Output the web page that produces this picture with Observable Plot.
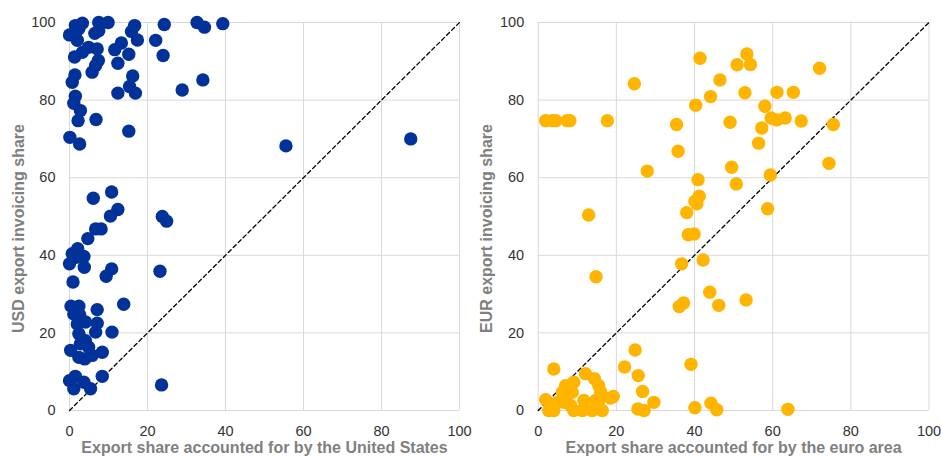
<!DOCTYPE html>
<html>
<head>
<meta charset="utf-8">
<script src="https://cdn.jsdelivr.net/npm/d3@7"></script>
<script src="https://cdn.jsdelivr.net/npm/@observablehq/plot@0.6"></script>
<style>
  html, body { margin: 0; padding: 0; background: #fff; }
  #wrap { display: flex; width: 941px; height: 459px; }
  svg { display: block; overflow: visible; }
</style>
</head>
<body>
<div id="wrap"></div>
<script>
// ---- Data ----
const ticks = [0, 20, 40, 60, 80, 100];
const diag = [0, 100];

const usdX = [1.5,3.3,2.4,7.5,9.9,0,1.5,2.0,6.5,7.5,16.7,15.9,17.4,24.3,32.7,34.6,39.3,22.1,24.0,13.3,11.6,15.2,12.4,4.9,7.1,3.3,1.3,7.4,6.7,5.8,1.4,0.7,16.2,15.4,16.9,12.4,34.2,28.9,1.5,1.1,2.8,2.2,6.8,15.2,0.1,2.6,55.5,87.5,6.1,10.8,12.4,10.5,6.7,8.1,4.7,2.1,0.7,3.7,1.7,0,3.8,0.9,10.8,9.4,23.8,24.9,23.2,13.9,0.4,2.4,1.1,2.6,7.1,2.0,4.1,7.1,6.7,2.4,10.9,0.3,2.4,3.9,4.9,8.4,5.8,4.1,2.8,0,1.5,1.1,3.7,5.4,8.4,23.6];
const usdY = [99.2,99.8,98.4,100,100,96.8,97.1,95.4,97.2,97.9,99.2,97.7,95.5,99.5,100,98.8,99.7,95.4,91.5,94.7,93.0,91.8,89.5,93.6,93.2,92.3,91.1,90.2,88.9,87.2,86.5,84.6,86.2,83.5,81.8,81.8,85.2,82.6,81.0,79.2,77.3,74.7,75.0,72.0,70.4,68.7,68.2,70.0,54.7,56.3,51.8,50.1,46.8,46.8,44.3,41.7,40.4,39.7,39.5,37.8,36.9,33.1,36.5,34.6,50.0,48.8,35.9,27.4,26.9,26.9,24.9,24.7,26.0,22.3,22.8,22.5,20.2,19.8,20.2,15.5,13.7,13.3,16.3,15.0,14.2,18.0,17.2,7.7,8.8,5.6,7.3,5.6,8.8,6.6];

const eurX = [1.9,3.6,4.5,7.4,8.1,17.7,24.6,35.4,35.8,41.4,40.3,44.1,46.5,53.4,50.9,54.3,72.0,52.9,61.1,65.3,58.0,59.6,61.0,63.2,67.3,75.5,49.1,57.2,56.4,74.4,27.9,49.5,50.7,59.4,40.9,41.2,40.1,40.6,38.0,58.7,38.4,39.9,36.7,42.2,43.9,36.1,37.2,46.2,53.2,39.1,40.1,44.2,45.7,63.9,12.9,14.8,24.8,22.1,25.6,26.7,29.6,25.5,27.1,19.2,18.5,4.0,12.1,14.4,15.5,16.0,15.8,9.1,7.0,6.2,8.7,1.9,3.6,4.9,2.7,4.0,8.3,9.1,11.7,11.3,13.8,15.1,16.4,14.7,6.6,7.4];
const eurY = [74.7,74.7,74.7,74.7,74.7,74.7,84.2,73.7,66.8,90.8,78.7,80.9,85.2,91.9,89.1,89.2,88.2,81.9,82.0,82.0,78.4,75.4,74.9,75.4,74.6,73.7,74.3,72.8,68.9,63.7,61.7,62.7,58.4,60.7,59.5,55.2,53.9,53.3,51.0,52.0,45.3,45.5,37.8,38.8,30.5,26.8,27.7,27.1,28.5,11.9,0.7,1.9,0.2,0.3,50.4,34.5,15.6,11.2,9.0,4.9,2.1,0.4,0,3.6,3.2,10.7,9.5,8.2,6.4,4.7,3.0,7.3,6.4,4.7,4.7,2.8,1.3,2.1,0,0,1.3,0,2.6,0,0,0.9,0,2.6,2.1,3.9];

const usd = usdX.map((x, i) => ({x, y: usdY[i]}));
const eur = eurX.map((x, i) => ({x, y: eurY[i]}));

const FONT = "'Liberation Sans', Arial, sans-serif";

function panel(data, color, xLabel, yLabel, marginLeft, width, marginRight) {
  return Plot.plot({
    width, height: 459,
    marginLeft, marginRight, marginTop: 22, marginBottom: 49,
    style: {fontFamily: FONT, fontSize: "14.5px", color: "#333", background: "transparent", overflow: "visible"},
    x: {domain: [0, 100]},
    y: {domain: [0, 100]},
    marks: [
      Plot.gridX(ticks, {stroke: "#d9d9d9", strokeOpacity: 1, strokeWidth: 1}),
      Plot.gridY(ticks, {stroke: "#d9d9d9", strokeOpacity: 1, strokeWidth: 1}),
      Plot.axisX(ticks, {tickSize: 0, tickPadding: 15, label: null, fill: "#333"}),
      Plot.axisY(ticks, {tickSize: 0, tickPadding: 14, label: null, fill: "#333"}),
      Plot.line(diag, {x: d => d, y: d => d, stroke: "#000", strokeWidth: 1.3, strokeDasharray: "4,3"}),
      Plot.dot(data, {x: "x", y: "y", r: 6.7, fill: color, stroke: "none"}),
      Plot.text([xLabel], {frameAnchor: "bottom", textAnchor: "middle", dy: 42, text: d => d, fontWeight: "bold", fill: "#808080", fontSize: 16}),
      Plot.text([yLabel], {frameAnchor: "left", textAnchor: "middle", dx: -51, dy: 12, rotate: -90, text: d => d, fontWeight: "bold", fill: "#808080", fontSize: 16})
    ]
  });
}

const wrap = document.getElementById("wrap");
wrap.appendChild(panel(usd, "#003299", "Export share accounted for by the United States", "USD export invoicing share", 69, 470, 11));
wrap.appendChild(panel(eur, "#FFB400", "Export share accounted for by the euro area", "EUR export invoicing share", 67.7, 471, 12.5));
</script>
</body>
</html>
